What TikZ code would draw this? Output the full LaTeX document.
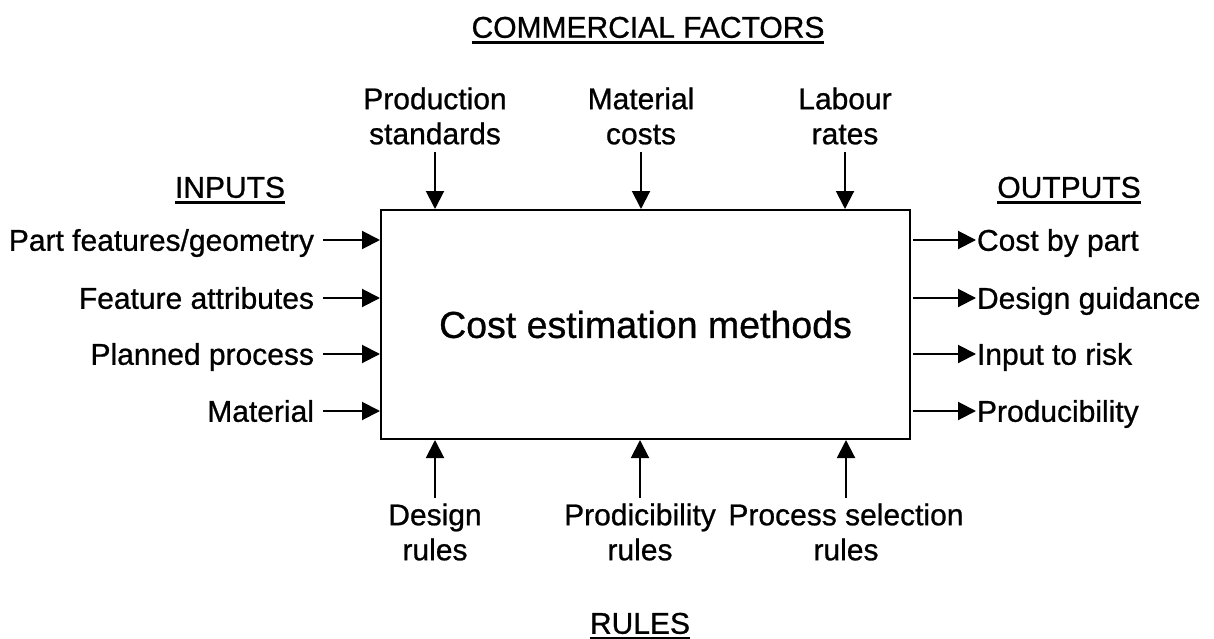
\documentclass[tikz,border=0pt]{standalone}
\usepackage{fontspec}
\setmainfont{Liberation Sans}[FakeBold=0.8]
\usetikzlibrary{arrows.meta}
\newsavebox\hdrbox
\newcommand\hdrul[1]{\sbox\hdrbox{#1}\rlap{\rule[-6.3pt]{\wd\hdrbox}{2.7pt}}\usebox\hdrbox}
\begin{document}
\begin{tikzpicture}[x=1pt,y=-1pt,
  lbl/.style={font=\fontsize{30}{35}\selectfont, inner sep=0pt, outer sep=0pt},
  lone/.style={lbl, text height=21.5pt, text depth=0pt},
  multi/.style={lbl, align=center},
  arr/.style={line width=2pt, -{Triangle[length=18pt,width=18pt]}},
  mainbox/.style={draw, line width=2pt, minimum width=529pt, minimum height=229pt,
    inner sep=0pt, font=\fontsize{37.5}{42}\selectfont}]
\useasboundingbox (0,0) rectangle (1214,639);

\node[mainbox] (box) at (645.5,324.5) {Cost estimation methods};

% headers
\node[lone] (cf) at (648,27) {\hdrul{COMMERCIAL FACTORS}};
\node[lone] (inp) at (230,187) {\hdrul{INPUTS}};
\node[lone] (outp) at (1069,187) {\hdrul{OUTPUTS}};
\node[lone] (rul) at (640,623) {\hdrul{RULES}};

% top labels
\node[multi] (ps) at (435,116) {Production\\standards};
\node[multi] (mc) at (641,116) {Material\\costs};
\node[multi] (lr) at (845,116) {Labour\\rates};
\draw[arr] ([yshift=-7.5pt]ps.south) -- (ps.south |- box.north);
\draw[arr] ([yshift=-7.5pt]mc.south) -- (mc.south |- box.north);
\draw[arr] ([yshift=-7.5pt]lr.south) -- (lr.south |- box.north);

% bottom labels
\node[multi] (dr) at (435,532) {Design\\rules};
\node[multi] (pr) at (640,532) {Prodicibility\\rules};
\node[multi] (psr) at (846,532) {Process selection\\rules};
\draw[arr] ([yshift=5.5pt]dr.north) -- (dr.north |- box.south);
\draw[arr] ([yshift=5.5pt]pr.north) -- (pr.north |- box.south);
\draw[arr] ([yshift=5.5pt]psr.north) -- (psr.north |- box.south);

% inputs
\node[lone, anchor=east] (pf) at (314,240) {Part features/geometry};
\node[lone, anchor=east] (fa) at (314,298) {Feature attributes};
\node[lone, anchor=east] (pp) at (314,354) {Planned process};
\node[lone, anchor=east] (ma) at (314,411) {Material};
\foreach \n in {pf,fa,pp,ma}
  \draw[arr, shorten <=9pt] (\n.east) -- (\n.east -| box.west);

% outputs
\node[lone, anchor=west] (cb) at (977,240) {Cost by part};
\node[lone, anchor=west] (dg) at (977,298) {Design guidance};
\node[lone, anchor=west] (ir) at (977,354) {Input to risk};
\node[lone, anchor=west] (pd) at (977,411) {Producibility};
\foreach \n in {cb,dg,ir,pd}
  \draw[arr, shorten <=2pt, shorten >=1pt] (box.east |- \n.west) -- (\n.west);
\end{tikzpicture}
\end{document}
